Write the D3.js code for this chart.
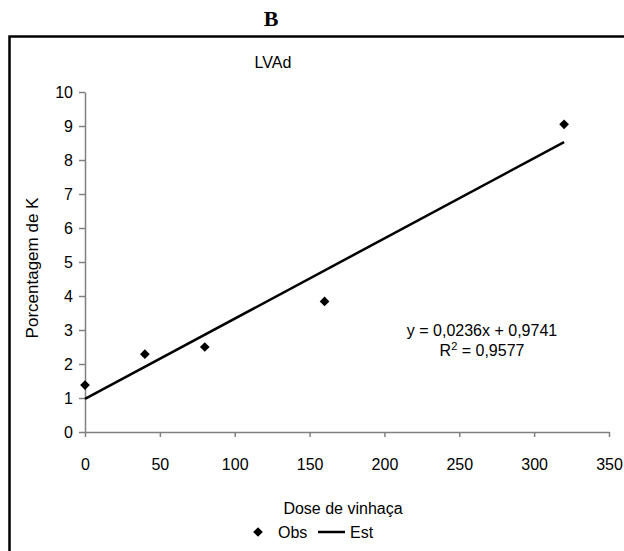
<!DOCTYPE html>
<html>
<head>
<meta charset="utf-8">
<script src="https://cdnjs.cloudflare.com/ajax/libs/d3/7.8.5/d3.min.js"></script>
<style>
  body { margin: 0; background: #fff; }
  text { font-family: "Liberation Sans", Arial, sans-serif; fill: #000; }
</style>
</head>
<body>
<div id="chart"></div>
<script>
// data
var doses = [0, 40, 80, 160, 320]
var obsK = [1.38, 2.29, 2.5, 3.84, 9.05]
var slope = 0.0236, intercept = 0.9741
var xTicks = [0, 50, 100, 150, 200, 250, 300, 350]
var yTicks = [0, 1, 2, 3, 4, 5, 6, 7, 8, 9, 10]

var W = 624, H = 551

var svg = d3.select('#chart').append('svg')
    .attr('width', W)
    .attr('height', H)

// panel letter and frame
svg.append('text')
    .attr('x', 271).attr('y', 26)
    .attr('text-anchor', 'middle')
    .style('font-family', '"Liberation Serif", "Times New Roman", serif')
    .style('font-weight', 'bold')
    .style('font-size', '22px')
    .text('B')

svg.append('rect')
    .attr('x', 9.5).attr('y', 36.5)
    .attr('width', 700).attr('height', 600)
    .attr('fill', 'none')
    .attr('stroke', '#000')
    .attr('stroke-width', 2.5)

svg.append('text')
    .attr('x', 273).attr('y', 68)
    .attr('text-anchor', 'middle')
    .style('font-size', '16px')
    .text('LVAd')

var x = d3.scaleLinear().domain([0, 350]).range([85, 609])
var y = d3.scaleLinear().domain([0, 10]).range([432, 92])

// axes
var xAxis = svg.append('g')
    .attr('transform', 'translate(0,432)')
    .call(d3.axisBottom(x).tickValues(xTicks).tickSize(5).tickPadding(22).tickSizeOuter(0))
var yAxis = svg.append('g')
    .attr('transform', 'translate(85,0)')
    .call(d3.axisLeft(y).tickValues(yTicks).tickSize(6).tickPadding(6).tickSizeOuter(0))

;[xAxis, yAxis].forEach(function(a) {
    a.select('.domain').attr('stroke', '#808080').attr('stroke-width', 1.5)
    a.selectAll('.tick line').attr('stroke', '#808080').attr('stroke-width', 1.5)
    a.selectAll('.tick text').style('font-size', '16px').style('font-family', '"Liberation Sans", Arial, sans-serif').attr('fill', '#000')
})

// fitted line
var fit = d3.line()
    .x(function(d) { return x(d) })
    .y(function(d) { return y(slope * d + intercept) })
svg.append('path')
    .datum([0, 320])
    .attr('d', fit)
    .attr('fill', 'none')
    .attr('stroke', '#000')
    .attr('stroke-width', 2.5)

// observed points
var diamond = d3.symbol().type(d3.symbolDiamond2).size(60)
svg.selectAll('.obs')
    .data(doses)
  .enter().append('path')
    .attr('class', 'obs')
    .attr('d', diamond)
    .attr('transform', function(d, i) { return 'translate(' + x(d) + ',' + y(obsK[i]) + ')' })
    .attr('fill', '#000')

// equation
var eq = svg.append('g')
eq.append('text')
    .attr('x', 482).attr('y', 336)
    .attr('text-anchor', 'middle')
    .style('font-size', '16px')
    .text('y = 0,0236x + 0,9741')
var r2 = eq.append('text')
    .attr('x', 482).attr('y', 356)
    .attr('text-anchor', 'middle')
    .style('font-size', '16px')
r2.append('tspan').text('R')
r2.append('tspan').attr('dy', -6).style('font-size', '11px').text('2')
r2.append('tspan').attr('dy', 6).text(' = 0,9577')

// axis titles
svg.append('text')
    .attr('x', 343).attr('y', 514)
    .attr('text-anchor', 'middle')
    .style('font-size', '16px')
    .text('Dose de vinhaça')

svg.append('text')
    .attr('transform', 'translate(38,268) rotate(-90)')
    .attr('text-anchor', 'middle')
    .style('font-size', '17px')
    .text('Porcentagem de K')

// legend
var lg = svg.append('g').attr('transform', 'translate(0,532)')
lg.append('path')
    .attr('d', diamond)
    .attr('transform', 'translate(258,0)')
    .attr('fill', '#000')
lg.append('text').attr('x', 278).attr('y', 6).style('font-size', '16px').text('Obs')
lg.append('line')
    .attr('x1', 318).attr('x2', 345).attr('y1', 0).attr('y2', 0)
    .attr('stroke', '#000').attr('stroke-width', 2.5)
lg.append('text').attr('x', 350).attr('y', 6).style('font-size', '16px').text('Est')
</script>
</body>
</html>
